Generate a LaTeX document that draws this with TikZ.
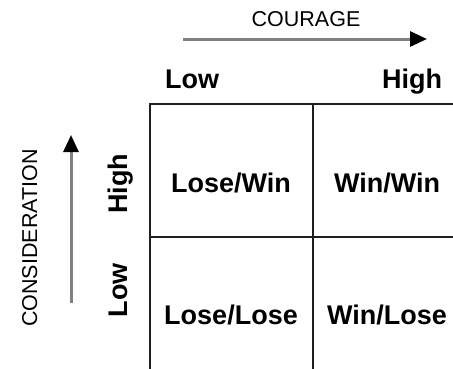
\documentclass[tikz,border=0pt]{standalone}
\usepackage{fontspec}
\setmainfont{Liberation Sans}
\usetikzlibrary{arrows.meta, positioning}
\definecolor{shaftgray}{gray}{0.5}
\definecolor{linegray}{gray}{0.12}

\begin{document}
\begin{tikzpicture}[x=1pt, y=-1pt,
  axislabel/.style={font=\fontsize{21.5}{25}\selectfont, anchor=base},
  levellabel/.style={font=\fontsize{27}{32}\selectfont\bfseries, anchor=base},
  outcome/.style={font=\fontsize{27}{32}\selectfont\bfseries, anchor=base},
  axisarrow/.style={draw=shaftgray, line width=3pt, -{Triangle[length=17pt, width=15pt, color=black]}},
  gridline/.style={draw=linegray, line width=2pt}]

\useasboundingbox (0,0) rectangle (453,368);
\clip (0,0) rectangle (453,368);

% Axes
\node[axislabel] (courage) at (306,26) {COURAGE};
\node[axislabel, rotate=90] (consideration) at (37,238) {CONSIDERATION};
\coordinate (cstart) at (183,39);
\coordinate (cend) at (427,39);
\coordinate (zstart) at (71,303);
\coordinate (zend) at (71,135);
\draw[axisarrow] (cstart) -- (cend);
\draw[axisarrow] (zstart) -- (zend);

% Levels
\node[levellabel] (clow) at (192,88) {Low};
\node[levellabel] (chigh) at (412,88) {High};
\node[levellabel, rotate=90] (zhigh) at (127,184) {High};
\node[levellabel, rotate=90] (zlow) at (127,290) {Low};

% Grid
\draw[gridline] (150,372) -- (150,104) -- (456,104);
\draw[gridline] (313,104) -- (313,372);
\draw[gridline] (150,237) -- (456,237);

% Outcomes
\node[outcome] (losewin) at (231,192) {Lose/Win};
\node[outcome] (winwin) at (387,192) {Win/Win};
\node[outcome] (loselose) at (231,324) {Lose/Lose};
\node[outcome] (winlose) at (387,324) {Win/Lose};
\end{tikzpicture}
\end{document}
